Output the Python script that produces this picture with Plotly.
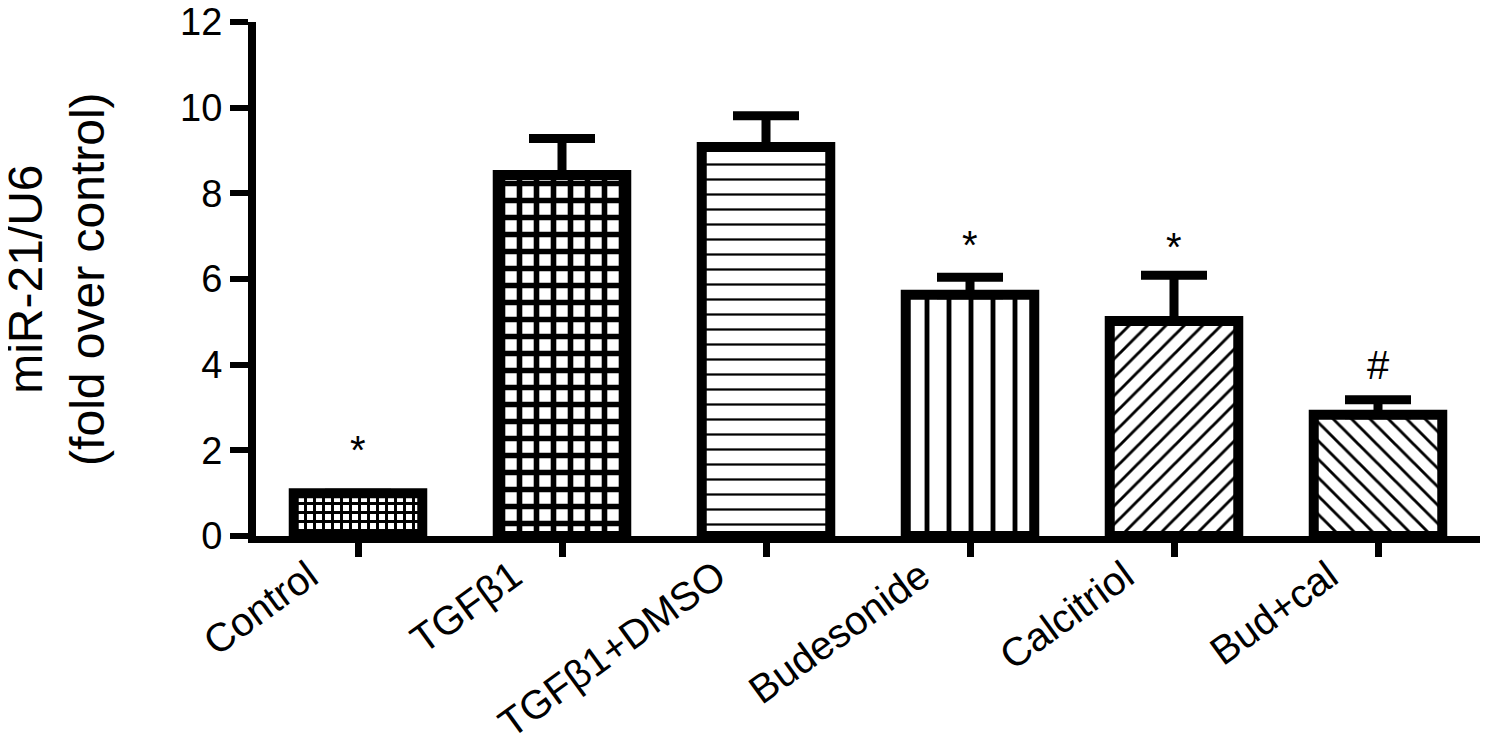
import plotly.graph_objects as go

groups = ["Control", "TGFβ1", "TGFβ1+DMSO", "Budesonide", "Calcitriol", "Bud+cal"]
fold_change = [1.0, 8.43, 9.08, 5.63, 5.02, 2.83]
sem = [0.0, 0.85, 0.73, 0.41, 1.07, 0.35]
marks = ["*", "", "", "*", "*", "#"]
mark_y = [2.0, None, None, 6.8, 6.75, 4.0]
y_ticks = [0, 2, 4, 6, 8, 10, 12]

# fill style of each bar
patterns = ["+", "+", "-", "|", "/", "\\"]
pattern_size = [9, 17, 15, 22, 13, 13]
pattern_solid = [0.55, 0.55, 0.15, 0.22, 0.22, 0.22]

font_family = "Liberation Sans, Arial, sans-serif"

fig = go.Figure()
fig.add_trace(go.Bar(
    x=list(range(len(groups))),
    y=fold_change,
    width=0.63,
    marker=dict(
        color="white",
        line=dict(color="black", width=10),
        pattern=dict(shape=patterns, size=pattern_size, solidity=pattern_solid,
                     fgcolor="black", bgcolor="white", fillmode="replace"),
    ),
    error_y=dict(type="data", symmetric=False, array=sem, arrayminus=[0] * len(sem),
                 color="black", thickness=9, width=33),
    showlegend=False,
))

for i, (m, my) in enumerate(zip(marks, mark_y)):
    if m:
        fig.add_annotation(x=i, y=my, text=m, showarrow=False,
                           font=dict(size=40, color="black"))

# y-axis title as a rotated annotation
fig.add_annotation(
    xref="paper", yref="paper", x=-0.1635, y=0.5,
    text="miR-21/U6<br>(fold over control)", textangle=-90,
    showarrow=False, xanchor="center", yanchor="middle",
    font=dict(size=48, color="black"),
)

# page body adds 8px, so margins are shifted to keep the plot area in place
fig.update_layout(
    width=1492, height=756,
    margin=dict(l=248, r=20, t=14, b=228),
    paper_bgcolor="white", plot_bgcolor="white",
    font=dict(family=font_family, size=38, color="black"),
)
fig.update_xaxes(
    range=[-0.5, 5.5], automargin=False,
    tickvals=list(range(len(groups))), ticktext=groups, tickangle=-36,
    ticklabelshift=-49, ticklabelstandoff=-20, ticklabeloverflow="allow",
    showline=True, linecolor="black", linewidth=7,
    ticks="outside", ticklen=14, tickwidth=7, tickcolor="black",
    showgrid=False, zeroline=False, tickfont=dict(size=40),
)
fig.update_yaxes(
    range=[0, 12], tickvals=y_ticks, automargin=False, ticklabeloverflow="allow",
    showline=True, linecolor="black", linewidth=8,
    ticks="outside", ticklen=18, tickwidth=6, tickcolor="black",
    showgrid=False, zeroline=False, tickfont=dict(size=38),
)

fig.write_html("out.html")
